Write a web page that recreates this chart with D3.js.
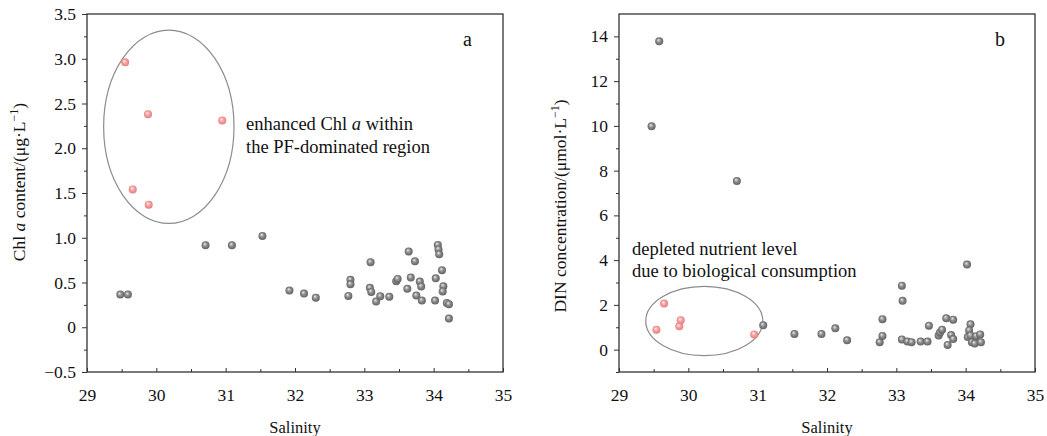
<!DOCTYPE html>
<html>
<head>
<meta charset="utf-8">
<script src="https://cdn.jsdelivr.net/npm/d3@7"></script>
<style>
  body { margin: 0; background: #fff; }
  text { font-family: "Liberation Serif", "Times New Roman", serif; fill: #111; }
</style>
</head>
<body>
<script>
// Panel a: Chl a vs salinity
const salA = [29.48, 29.59, 30.71, 31.09, 31.53, 31.92, 32.13, 32.30, 32.77, 32.80, 32.80, 33.09, 33.08, 33.10,
  33.17, 33.23, 33.36, 33.46, 33.48, 33.62, 33.64, 33.67, 33.73, 33.75, 33.80, 33.82, 33.83, 34.02, 34.03,
  34.06, 34.07, 34.08, 34.12, 34.14, 34.13, 34.19, 34.22, 34.22];
const chlA = [0.365, 0.365, 0.916, 0.916, 1.02, 0.41, 0.376, 0.33, 0.35, 0.53, 0.48, 0.726, 0.44, 0.395,
  0.287, 0.346, 0.34, 0.514, 0.54, 0.43, 0.846, 0.555, 0.737, 0.354, 0.51, 0.455, 0.298, 0.298, 0.547,
  0.92, 0.87, 0.816, 0.637, 0.458, 0.40, 0.27, 0.257, 0.097];
const salARed = [29.55, 29.88, 30.95, 29.66, 29.89];
const chlARed = [2.96, 2.38, 2.31, 1.54, 1.37];

// Panel b: DIN vs salinity
const salB = [29.58, 29.47, 30.70, 31.08, 31.53, 31.92, 32.12, 32.29, 32.76, 32.80, 32.80, 33.08, 33.09, 33.08,
  33.16, 33.22, 33.35, 33.45, 33.47, 33.61, 33.63, 33.66, 33.72, 33.82, 33.74, 33.79, 33.82, 34.02, 34.03,
  34.07, 34.05, 34.07, 34.09, 34.13, 34.15, 34.21, 34.22];
const dinB = [13.78, 9.98, 7.54, 1.09, 0.70, 0.70, 0.95, 0.42, 0.33, 0.61, 1.36, 2.86, 2.18, 0.45,
  0.36, 0.33, 0.36, 0.36, 1.07, 0.63, 0.77, 0.89, 1.40, 1.34, 0.21, 0.65, 0.47, 3.80, 0.56,
  1.13, 0.86, 0.63, 0.33, 0.27, 0.60, 0.68, 0.33];
const salBRed = [29.54, 29.65, 29.87, 29.89, 30.95];
const dinBRed = [0.89, 2.06, 1.04, 1.31, 0.68];

const xTicks = [29, 30, 31, 32, 33, 34, 35];
const yTicksA = [-0.5, 0, 0.5, 1.0, 1.5, 2.0, 2.5, 3.0, 3.5];
const yTicksB = [0, 2, 4, 6, 8, 10, 12, 14];

const svg = d3.select("body").append("svg")
    .attr("width", 1047)
    .attr("height", 436);

// shaded sphere markers
const defs = svg.append("defs");
const ball = (id, c0, c1, c2) => {
    const g = defs.append("radialGradient").attr("id", id)
        .attr("cx", "50%").attr("cy", "50%").attr("r", "55%")
        .attr("fx", "38%").attr("fy", "32%");
    g.append("stop").attr("offset", "0%").attr("stop-color", c0);
    g.append("stop").attr("offset", "45%").attr("stop-color", c1);
    g.append("stop").attr("offset", "100%").attr("stop-color", c2);
};
ball("gray", "#ececec", "#8e8e8e", "#5a5a5a");
ball("red", "#fff0f0", "#f7a4a4", "#e47676");

const axisColor = "#333";
const tickFont = 17.5;

const panel = (opt) => {
    const x = d3.scaleLinear().domain([29, 35]).range([opt.left, opt.left + 416]);
    const y = d3.scaleLinear().domain(opt.yDomain).range([372, 14]);
    const g = svg.append("g");

    // frame
    g.append("rect")
        .attr("x", x(29)).attr("y", y.range()[1])
        .attr("width", x(35) - x(29)).attr("height", y.range()[0] - y.range()[1])
        .attr("fill", "none").attr("stroke", axisColor).attr("stroke-width", 1.3);

    // x axis, ticks pointing inward
    const xMinor = d3.range(29.5, 35, 1);
    g.append("g")
        .attr("transform", `translate(0,${y.range()[0]})`)
        .call(d3.axisBottom(x).tickValues(xMinor).tickSize(-3).tickFormat(""))
        .call(a => a.select(".domain").remove())
        .call(a => a.selectAll("line").attr("stroke", axisColor));
    g.append("g")
        .attr("transform", `translate(0,${y.range()[0]})`)
        .call(d3.axisBottom(x).tickValues(xTicks).tickSize(-4).tickPadding(17).tickFormat(d3.format("d")))
        .call(a => a.select(".domain").remove())
        .call(a => a.selectAll("line").attr("stroke", axisColor))
        .call(a => a.selectAll("text").attr("font-family", "Liberation Serif").attr("font-size", tickFont).attr("fill", "#111"));

    // y axis, ticks pointing outward
    g.append("g")
        .attr("transform", `translate(${x(29)},0)`)
        .call(d3.axisLeft(y).tickValues(opt.yMinor).tickSize(3).tickFormat(""))
        .call(a => a.select(".domain").remove())
        .call(a => a.selectAll("line").attr("stroke", axisColor));
    g.append("g")
        .attr("transform", `translate(${x(29)},0)`)
        .call(d3.axisLeft(y).tickValues(opt.yTicks).tickSize(5).tickPadding(6).tickFormat(opt.yFormat))
        .call(a => a.select(".domain").remove())
        .call(a => a.selectAll("line").attr("stroke", axisColor))
        .call(a => a.selectAll("text").attr("font-family", "Liberation Serif").attr("font-size", tickFont).attr("fill", "#111"));

    // ellipse
    const e = opt.ellipse;
    g.append("ellipse")
        .attr("cx", x(e.cx)).attr("cy", y(e.cy))
        .attr("rx", x(e.cx + e.rx) - x(e.cx)).attr("ry", y(e.cy) - y(e.cy + e.ry))
        .attr("fill", "none").attr("stroke", "#8c8c8c").attr("stroke-width", 1.2);

    // points
    g.selectAll("circle.gray").data(d3.range(opt.xs.length)).join("circle")
        .attr("class", "gray")
        .attr("cx", i => x(opt.xs[i])).attr("cy", i => y(opt.ys[i]))
        .attr("r", 4).attr("fill", "url(#gray)");
    g.selectAll("circle.red").data(d3.range(opt.xr.length)).join("circle")
        .attr("class", "red")
        .attr("cx", i => x(opt.xr[i])).attr("cy", i => y(opt.yr[i]))
        .attr("r", 4).attr("fill", "url(#red)");

    // panel letter
    g.append("text").attr("x", x(35) - 40).attr("y", 46)
        .attr("font-size", 20).text(opt.letter);

    // x title
    g.append("text").attr("x", (x(29) + x(35)) / 2).attr("y", 433)
        .attr("text-anchor", "middle")
        .attr("font-family", "Liberation Sans").attr("font-size", 16.5)
        .text("Salinity");

    return { x, y, g };
};

const pa = panel({
    left: 87, yDomain: [-0.5, 3.5], yTicks: yTicksA, yMinor: d3.range(-0.25, 3.5, 0.5),
    yFormat: d => d === 0 ? "0" : (d < 0 ? "\u22120.5" : d3.format(".1f")(d)),
    xs: salA, ys: chlA, xr: salARed, yr: chlARed,
    ellipse: { cx: 30.18, cy: 2.24, rx: 0.94, ry: 1.08 },
    letter: "a"
});

const pb = panel({
    left: 619, yDomain: [-1, 15], yTicks: yTicksB, yMinor: d3.range(-1, 15, 2),
    yFormat: d3.format("d"),
    xs: salB, ys: dinB, xr: salBRed, yr: dinBRed,
    ellipse: { cx: 30.23, cy: 1.28, rx: 0.844, ry: 1.55 },
    letter: "b"
});

// y titles
const yTitleA = svg.append("text")
    .attr("transform", "translate(25,182) rotate(-90)")
    .attr("text-anchor", "middle").attr("font-size", 17.5);
yTitleA.append("tspan").text("Chl ");
yTitleA.append("tspan").attr("font-style", "italic").text("a");
yTitleA.append("tspan").text(" content/(\u03bcg\u00b7L");
yTitleA.append("tspan").attr("dy", -7).attr("font-size", 12).text("\u22121");
yTitleA.append("tspan").attr("dy", 7).text(")");

const yTitleB = svg.append("text")
    .attr("transform", "translate(566,206) rotate(-90)")
    .attr("text-anchor", "middle").attr("font-size", 17.5);
yTitleB.append("tspan").text("DIN concentration/(\u03bcmol\u00b7L");
yTitleB.append("tspan").attr("dy", -7).attr("font-size", 12).text("\u22121");
yTitleB.append("tspan").attr("dy", 7).text(")");

// annotations
const noteA = pa.g.append("text").attr("font-size", 18.5);
const l1 = noteA.append("tspan").attr("x", 246).attr("y", 130);
l1.append("tspan").text("enhanced Chl ");
l1.append("tspan").attr("font-style", "italic").text("a");
l1.append("tspan").text(" within");
noteA.append("tspan").attr("x", 246).attr("y", 153).text("the PF-dominated region");

const noteB = pb.g.append("text").attr("font-size", 18.5);
noteB.append("tspan").attr("x", 632).attr("y", 255).text("depleted nutrient level");
noteB.append("tspan").attr("x", 632).attr("y", 277).text("due to biological consumption");
</script>
</body>
</html>
